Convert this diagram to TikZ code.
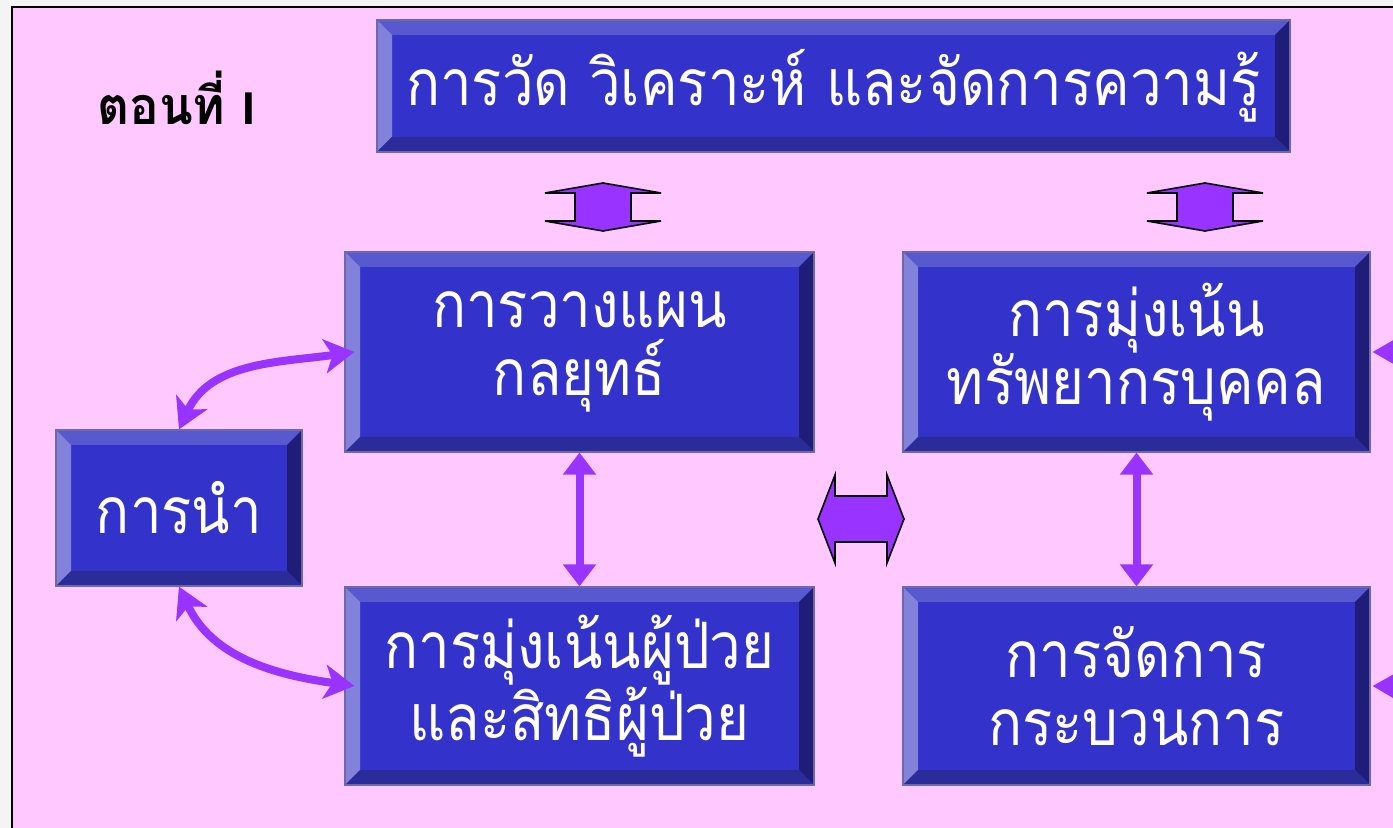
\documentclass[tikz,border=0pt]{standalone}
\usepackage{fontspec}
\newfontfamily\thai[Script=Thai,FakeStretch=0.88]{Loma}
\newfontfamily\thaihead[Script=Thai,FakeStretch=0.95]{Loma}
\newfontfamily\latinsans{Liberation Sans}
\usetikzlibrary{arrows.meta,calc}
\definecolor{pinkbg}{HTML}{FFC8FF}
\definecolor{outerbg}{HTML}{F4F4F4}
\definecolor{face}{HTML}{3333CC}
\definecolor{btop}{HTML}{5858CF}
\definecolor{bleft}{HTML}{8282DA}
\definecolor{bright}{HTML}{1E1E78}
\definecolor{bbot}{HTML}{2B2B99}
\definecolor{bline}{HTML}{6A6AA8}
\definecolor{arrowpurple}{HTML}{9933FF}
\tikzset{
  bevelbox/.style={rectangle, fill=face, draw=bline, line width=0.6pt, text=white, align=center, inner sep=0pt,
    font=\thai\fontsize{32}{34}\selectfont,
    path picture={
      \fill[btop] (path picture bounding box.north west) -- (path picture bounding box.north east)
        -- ([shift={(-7.5pt,-7.5pt)}]path picture bounding box.north east) -- ([shift={(7.5pt,-7.5pt)}]path picture bounding box.north west) -- cycle;
      \fill[bleft] (path picture bounding box.north west) -- ([shift={(7.5pt,-7.5pt)}]path picture bounding box.north west)
        -- ([shift={(7.5pt,7.5pt)}]path picture bounding box.south west) -- (path picture bounding box.south west) -- cycle;
      \fill[bright] (path picture bounding box.north east) -- (path picture bounding box.south east)
        -- ([shift={(-7.5pt,7.5pt)}]path picture bounding box.south east) -- ([shift={(-7.5pt,-7.5pt)}]path picture bounding box.north east) -- cycle;
      \fill[bbot] (path picture bounding box.south west) -- (path picture bounding box.south east)
        -- ([shift={(-7.5pt,7.5pt)}]path picture bounding box.south east) -- ([shift={(7.5pt,7.5pt)}]path picture bounding box.south west) -- cycle;
    }},
  straightlink/.style={draw=arrowpurple, line width=4pt, {Triangle[length=11pt,width=16pt]}-{Triangle[length=11pt,width=16pt]}},
  curvedlink/.style={draw=arrowpurple, line width=4pt, {Stealth[length=15pt,width=17pt,inset=4pt]}-{Stealth[length=15pt,width=17pt,inset=4pt]}},
  offlink/.style={draw=arrowpurple, line width=4pt, -{Stealth[length=15pt,width=17pt,inset=4pt]}},
  blockarrow/.style={fill=arrowpurple, draw=black, line width=0.8pt, line join=miter},
  heading/.style={font=\thaihead\bfseries\fontsize{26}{30}\selectfont, text=black, inner sep=0pt, anchor=base west}
}
\begin{document}
\begin{tikzpicture}[x=0.5pt,y=-0.5pt]
\useasboundingbox (0,0) rectangle (1393,828);
\fill[outerbg] (0,0) rectangle (1393,828);
\fill[pinkbg] (12,7) rectangle (1400,840);
\draw[black, line width=1pt] (12,840) -- (12,7) -- (1400,7);

\node[heading] (title) at (97,125) {ตอนที่ {\latinsans\bfseries\fontsize{23}{26}\selectfont I}};

\node[bevelbox, minimum width=456.5pt, minimum height=66pt] (km) at (833.5,86) {การวัด วิเคราะห์ และจัดการความรู้};
\node[bevelbox, minimum width=234.5pt, minimum height=100pt] (plan) at (579.5,352) {การวางแผน\\กลยุทธ์};
\node[bevelbox, minimum width=233.5pt, minimum height=100pt] (hr) at (1136.5,352) {การมุ่งเน้น\\ทรัพยากรบุคคล};
\node[bevelbox, minimum width=123pt, minimum height=78pt] (lead) at (179,508) {การนำ};
\node[bevelbox, minimum width=234.5pt, minimum height=99pt] (patient) at (579.5,686) {การมุ่งเน้นผู้ป่วย\\และสิทธิผู้ป่วย};
\node[bevelbox, minimum width=233.5pt, minimum height=99pt] (process) at (1136.5,686) {การจัดการ\\กระบวนการ};

% small vertical block arrows
\coordinate (ba1) at (603,207);
\coordinate (ba2) at (1205,207);
\foreach \c in {ba1,ba2}{
  \draw[blockarrow] ($(\c)+(-58,-14)$) -- ($(\c)+(0,-24)$) -- ($(\c)+(58,-14)$) -- ($(\c)+(28,-14)$)
    -- ($(\c)+(28,14)$) -- ($(\c)+(58,14)$) -- ($(\c)+(0,24)$) -- ($(\c)+(-58,14)$)
    -- ($(\c)+(-28,14)$) -- ($(\c)+(-28,-14)$) -- cycle;
}
% horizontal block arrow
\coordinate (hb) at (861,519);
\draw[blockarrow] ($(hb)+(-43,0)$) -- ($(hb)+(-26,-44)$) -- ($(hb)+(-26,-23)$) -- ($(hb)+(26,-23)$)
  -- ($(hb)+(26,-44)$) -- ($(hb)+(43,0)$) -- ($(hb)+(26,44)$) -- ($(hb)+(26,23)$)
  -- ($(hb)+(-26,23)$) -- ($(hb)+(-26,44)$) -- cycle;

% connectors
\draw[straightlink] (plan.south) -- (patient.north);
\draw[straightlink] (hr.south) -- (process.north);
\draw[curvedlink] (lead.north) to[out=65, in=188] ([xshift=5pt]plan.west);
\draw[curvedlink] (lead.south) to[out=-65, in=172] ([xshift=5pt]patient.west);
\coordinate (offA) at (1470,352);
\coordinate (offB) at (1470,687);
\draw[offlink] (offA) -- ([xshift=1pt]hr.east);
\draw[offlink] (offB) -- ([xshift=1pt]process.east);
\end{tikzpicture}
\end{document}
